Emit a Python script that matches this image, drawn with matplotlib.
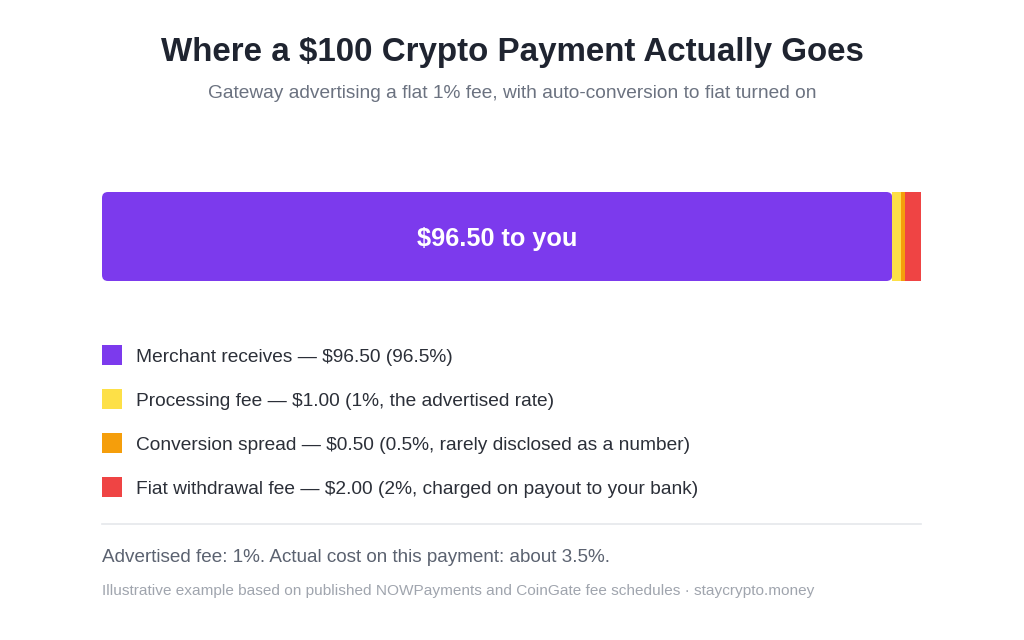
import matplotlib
matplotlib.use("Agg")
import matplotlib.pyplot as plt
from matplotlib.patches import FancyBboxPatch, Rectangle

plt.rcParams['font.family'] = ['Liberation Sans', 'DejaVu Sans']

categories = ["Merchant receives", "Processing fee", "Conversion spread", "Fiat withdrawal fee"]
amounts = [96.50, 1.00, 0.50, 2.00]
notes = ["96.5%", "1%, the advertised rate", "0.5%, rarely disclosed as a number",
         "2%, charged on payout to your bank"]
colors = ["#7c3aed", "#fde047", "#f59e0b", "#ef4444"]
bar_label = "$96.50 to you"

title = "Where a $100 Crypto Payment Actually Goes"
subtitle = "Gateway advertising a flat 1% fee, with auto-conversion to fiat turned on"
footnote = "Advertised fee: 1%. Actual cost on this payment: about 3.5%."
source = "Illustrative example based on published NOWPayments and CoinGate fee schedules · staycrypto.money"

W, H = 1024, 640
fig = plt.figure(figsize=(W / 100, H / 100), dpi=100)
fig.patch.set_facecolor("white")

def px(x0, y0, x1, y1):
    return [x0 / W, 1 - y1 / H, (x1 - x0) / W, (y1 - y0) / H]

# overlay axes in pixel coords
ov = fig.add_axes([0, 0, 1, 1])
ov.set_xlim(0, W)
ov.set_ylim(H, 0)
ov.axis("off")

ov.text(512, 53, title, ha="center", va="center", fontsize=23.9, fontweight="bold", color="#1f2430")
ov.text(512, 94, subtitle, ha="center", va="center", fontsize=13.8, color="#6b7280")

# bar axes
bx0, by0, bx1, by1 = 102, 192, 921, 281
ax = fig.add_axes(px(bx0, by0, bx1, by1))
total = sum(amounts)
ax.set_xlim(0, total)
ax.set_ylim(1, 0)
ax.axis("off")

left = 0
for i, (a, c) in enumerate(zip(amounts, colors)):
    if i == 0:
        rx = 6 / ((bx1 - bx0) / total)
        ry = 6 / (by1 - by0)
        p = FancyBboxPatch((left, 0), a, 1, boxstyle=f"round,pad=0,rounding_size={rx}",
                           mutation_aspect=ry / rx, facecolor=c, edgecolor="none")
        ax.add_patch(p)
        ax.text(left + a / 2, 0.53, bar_label, ha="center", va="center",
                fontsize=18.2, fontweight="bold", color="white")
    else:
        ax.barh(0.5, a, left=left, height=1, color=c, edgecolor="none")
    left += a

# legend
ys = [355, 399, 443, 487]
for cat, a, n, c, y in zip(categories, amounts, notes, colors, ys):
    ov.add_patch(Rectangle((102, y - 10), 20, 20, facecolor=c, edgecolor="none"))
    ov.text(136, y + 2, f"{cat} — ${a:.2f} ({n})", ha="left", va="center", fontsize=13.8, color="#2b2f38")

ov.plot([102, 921], [524, 524], color="#e5e7eb", lw=1.2)
ov.text(102, 558, footnote, ha="left", va="center", fontsize=13.6, color="#5b6270")
ov.text(102, 591, source, ha="left", va="center", fontsize=11.05, color="#a0a5ae")

fig.savefig("out.png", dpi=100, facecolor="white")
